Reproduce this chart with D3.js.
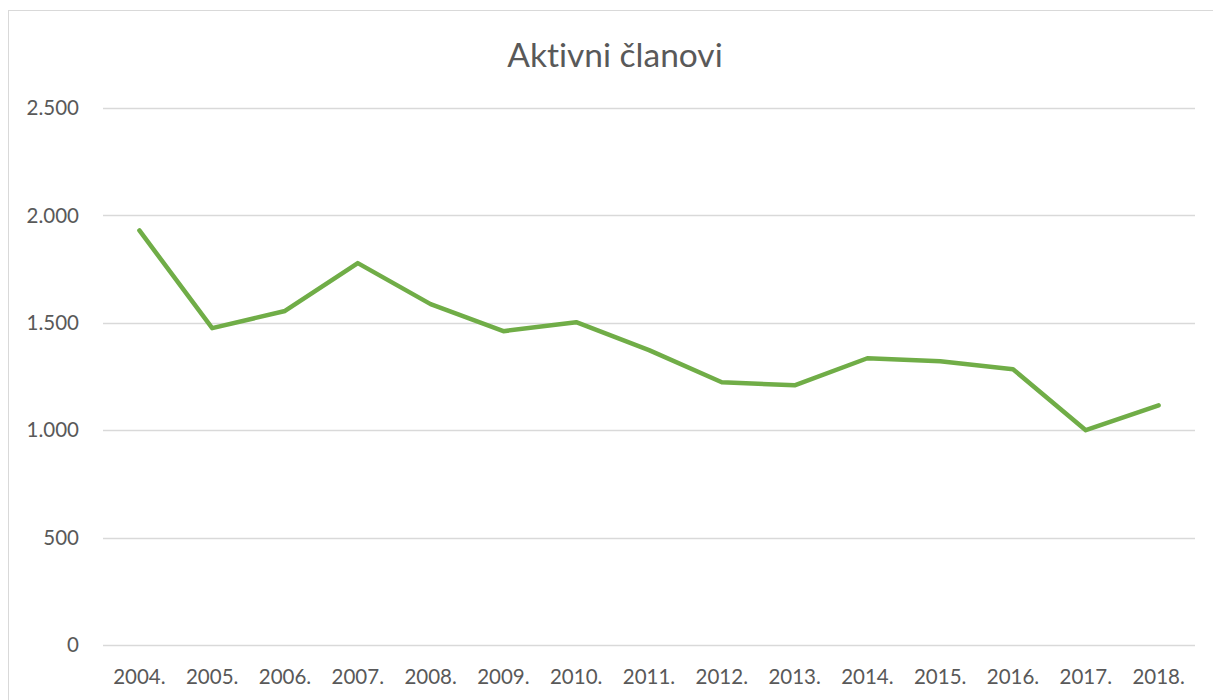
<!DOCTYPE html>
<html lang="hr">
  <head>
    <meta charset="utf-8">
    <script src="https://d3js.org/d3.v7.min.js"></script>
    <style>
      body { margin: 0; background: #fff; }
      text { font-family: Lato, "Open Sans", sans-serif; fill: #595959; font-variant-ligatures: none; }
    </style>
  </head>
  <body>
    <svg width="1213" height="700"></svg>
    <script>
      // data
      var years = ["2004.", "2005.", "2006.", "2007.", "2008.", "2009.", "2010.",
                   "2011.", "2012.", "2013.", "2014.", "2015.", "2016.", "2017.", "2018."];
      var members = [1930, 1475, 1555, 1778, 1587, 1461, 1503,
                     1373, 1223, 1209, 1335, 1321, 1284, 1000, 1116];
      var yTicks = [0, 500, 1000, 1500, 2000, 2500];
      var title = "Aktivni članovi";

      var svg = d3.select("svg"),
          width = +svg.attr("width"),
          height = +svg.attr("height");

      // chart border
      svg.append("rect")
        .attr("x", 8.5).attr("y", 10.5)
        .attr("width", width + 10).attr("height", height + 10)
        .attr("fill", "none")
        .attr("stroke", "#d9d9d9");

      var margin = {left: 103, right: 18, top: 108, bottom: 55};

      var x = d3.scalePoint()
        .domain(years)
        .range([margin.left, width - margin.right])
        .padding(0.5);

      var y = d3.scaleLinear()
        .domain([0, 2500])
        .range([height - margin.bottom, margin.top]);

      // gridlines
      svg.append("g")
        .selectAll("line")
        .data(yTicks)
        .enter().append("line")
          .attr("x1", margin.left)
          .attr("x2", width - margin.right)
          .attr("y1", function(d) { return Math.round(y(d)) + 0.5; })
          .attr("y2", function(d) { return Math.round(y(d)) + 0.5; })
          .attr("stroke", "#d9d9d9")
          .attr("stroke-width", 1.3);

      // y labels
      var fmt = function(d) { return d3.format(",")(d).replace(/,/g, "."); };
      svg.append("g")
        .selectAll("text")
        .data(yTicks)
        .enter().append("text")
          .attr("x", 79)
          .attr("y", function(d) { return y(d); })
          .attr("dy", "0.35em")
          .attr("text-anchor", "end")
          .style("font-size", "20.5px")
          .text(fmt);

      // x labels
      svg.append("g")
        .selectAll("text")
        .data(years)
        .enter().append("text")
          .attr("x", function(d) { return x(d); })
          .attr("y", 684)
          .attr("text-anchor", "middle")
          .style("font-size", "20.5px")
          .text(function(d) { return d; });

      // line
      var line = d3.line()
        .x(function(d, i) { return x(years[i]); })
        .y(function(d) { return y(d); });

      svg.append("path")
        .datum(members)
        .attr("d", line)
        .attr("fill", "none")
        .attr("stroke", "#70ad47")
        .attr("stroke-width", 4.5)
        .attr("stroke-linejoin", "round")
        .attr("stroke-linecap", "round");

      // title
      svg.append("text")
        .attr("x", 615)
        .attr("y", 67)
        .attr("text-anchor", "middle")
        .style("font-size", "33.5px")
        .text(title);
    </script>
  </body>
</html>
